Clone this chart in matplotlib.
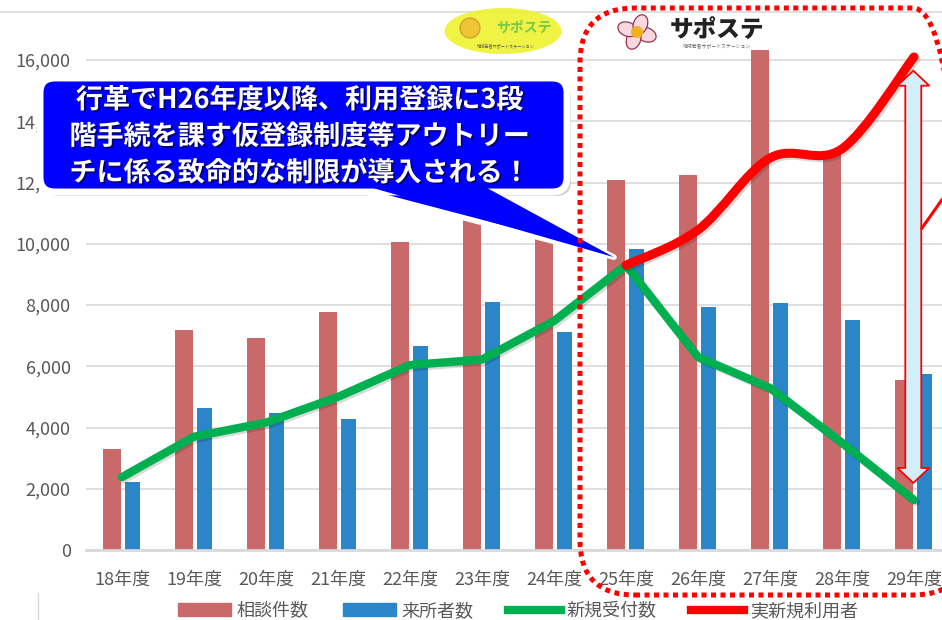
import matplotlib
matplotlib.use("Agg")
import matplotlib.pyplot as plt
import matplotlib.patheffects as pe
from matplotlib.patches import FancyBboxPatch, Polygon, Ellipse, Circle, Patch, PathPatch
from matplotlib.lines import Line2D
from matplotlib.path import Path
from matplotlib.ticker import FuncFormatter
import numpy as np

plt.rcParams['font.family'] = ['Noto Sans CJK JP', 'DejaVu Sans']

# データ
years = ["18年度", "19年度", "20年度", "21年度", "22年度", "23年度",
         "24年度", "25年度", "26年度", "27年度", "28年度", "29年度"]
soudan = [3300, 7180, 6920, 7770, 10060, 11000, 10300, 12080, 12250, 16330, 12900, 5550]
raisho = [2220, 4640, 4470, 4280, 6660, 8100, 7120, 9830, 7940, 8060, 7510, 5750]
shinki = [2380, 3700, 4160, 5000, 6040, 6220, 7480, 9300, 6300, 5290, 3500, 1630]
jitsu_years = years[7:]
jitsu = [9300, 10450, 12800, 13100, 16100]

callout = ["行革でH26年度以降、利用登録に3段",
           "階手続を課す仮登録制度等アウトリー",
           "チに係る致命的な制限が導入される！"]

gray = '#595959'
W, H = 942, 620

fig = plt.figure(figsize=(W / 100, H / 100), dpi=100)
# 左端 86px, 下 550px, 上 12px
ax = fig.add_axes([86 / W, 70 / H, 1 - 86 / W, (550 - 12) / H])

x = np.arange(len(years))
ax.bar(x - 0.135, soudan, width=0.25, color='#C9696A', zorder=2)
ax.bar(x + 0.145, raisho, width=0.22, color='#2B86C9', zorder=2)

shadow = [pe.SimpleLineShadow(offset=(1.5, -1.5), alpha=0.15), pe.Normal()]
ax.plot(x, shinki, color='#00B050', lw=6, solid_capstyle='round',
        solid_joinstyle='round', zorder=4, path_effects=shadow)


# 実新規利用者: Excel風の平滑線 (ベジェ)
def smooth_path(xs, ys):
    pts = np.column_stack([xs, ys]).astype(float)
    verts = [pts[0]]
    codes = [Path.MOVETO]
    n = len(pts)
    for i in range(n - 1):
        p0 = pts[max(i - 1, 0)]
        p1 = pts[i]
        p2 = pts[i + 1]
        p3 = pts[min(i + 2, n - 1)]
        verts += [p1 + (p2 - p0) / 6, p2 - (p3 - p1) / 6, p2]
        codes += [Path.CURVE4] * 3
    return Path(verts, codes)


xj = np.arange(7, 7 + len(jitsu))
red_path = smooth_path(xj, jitsu)
ax.add_patch(PathPatch(red_path, fc='none', ec='#FF0000', lw=6.5, capstyle='round',
                       joinstyle='round', zorder=5, path_effects=shadow))

ax.set_xlim(-0.5, -0.5 + (W - 86) / 72)
ax.set_ylim(0, (550 - 12) / 0.030625)
ax.set_yticks(np.arange(0, 16001, 2000))
ax.yaxis.set_major_formatter(FuncFormatter(lambda v, p: f"{int(v):,}"))
ax.set_xticks(x)
ax.set_xticklabels(years)
ax.tick_params(axis='both', length=0, labelsize=13, colors=gray)
ax.tick_params(axis='y', pad=11)
ax.tick_params(axis='x', pad=15)
ax.grid(axis='y', color='#d9d9d9', lw=1.2, zorder=0)
ax.set_axisbelow(True)
for s in ['top', 'right', 'left']:
    ax.spines[s].set_visible(False)
ax.spines['bottom'].set_color('#d9d9d9')
ax.spines['bottom'].set_linewidth(2)

# 両矢印 (29年度)
xa = 11 - 0.01
top = jitsu[-1] - 450
bot = shinki[-1] + 560
hs, hh, hl = 0.111, 0.222, 490
arrow = [(xa, top), (xa + hh, top - hl), (xa + hs, top - hl), (xa + hs, bot + hl),
         (xa + hh, bot + hl), (xa, bot), (xa - hh, bot + hl), (xa - hs, bot + hl),
         (xa - hs, top - hl), (xa - hh, top - hl)]
ax.add_patch(Polygon(arrow, closed=True, fc='#d2eff9', ec='#FF0000', lw=1.3, zorder=7))

fig.legend(handles=[Patch(color='#C9696A'), Patch(color='#2B86C9'),
                    Line2D([], [], color='#00B050', lw=6),
                    Line2D([], [], color='#FF0000', lw=6)],
           labels=["相談件数", "来所者数", "新規受付数", "実新規利用者"],
           loc='center', bbox_to_anchor=(518 / W, 1 - 611 / H), ncol=4,
           frameon=False, fontsize=13, handlelength=2.95, handletextpad=0.3,
           columnspacing=1.9, labelcolor=gray)

# 以下はピクセル位置指定の装飾
def inch(px, py):
    return px / 100, (H - py) / 100


tr = fig.dpi_scale_trans

# 上端の枠線
fig.add_artist(Line2D([0, 1], [1 - 12 / H] * 2, transform=fig.transFigure,
                      color='#d9d9d9', lw=1.2))
fig.add_artist(Line2D([38 / W] * 2, [0, 1 - 593 / H], transform=fig.transFigure,
                      color='#d9d9d9', lw=1))

# 吹き出し
fig.canvas.draw()
tipx, tipy = ax.transData.transform((7, shinki[7]))
tip = ((tipx - 12) / 100, (tipy + 8) / 100)
b0, b1 = inch(350, 188), inch(478, 188)
bx, by = inch(40, 192)
sh = FancyBboxPatch((bx + 0.04, by - 0.04), 5.27, 1.14,
                    boxstyle='round,pad=0,rounding_size=0.15', transform=tr,
                    fc='#000000', ec='none', alpha=0.18, zorder=10)
fig.add_artist(sh)
fig.add_artist(Polygon([b0, b1, tip], closed=True, transform=tr, fc='#0000FF',
                       ec='white', lw=4, joinstyle='round', zorder=11))
fig.add_artist(FancyBboxPatch((bx, by), 5.27, 1.14,
                              boxstyle='round,pad=0,rounding_size=0.15', transform=tr,
                              fc='#0000FF', ec='white', lw=5, zorder=12))
fig.add_artist(Polygon([inch(352, 182), inch(476, 182), tip], closed=True, transform=tr,
                       fc='#0000FF', ec='none', zorder=13))
txt_shadow = [pe.SimplePatchShadow(offset=(1.2, -1.2), shadow_rgbFace='black', alpha=0.6),
              pe.Normal()]
for i, line in enumerate(callout):
    cx, cy = inch(300, 100 + i * 36.5)
    fig.text(cx, cy, line, transform=tr, ha='center', va='center', fontsize=19.5,
             weight='bold', color='white', zorder=14, path_effects=txt_shadow)

# 点線の角丸枠
fx, fy = inch(580, 595)
fig.add_artist(FancyBboxPatch((fx, fy), 3.88, 5.87,
                              boxstyle='round,pad=0,rounding_size=0.55', transform=tr,
                              fc='none', ec='#FF0000', lw=3.6, linestyle=(0, (1, 0.9)),
                              capstyle='butt', zorder=15))

# 右端の赤線
p0, p1 = inch(922, 228), inch(946, 194)
fig.add_artist(Line2D([p0[0], p1[0]], [p0[1], p1[1]], transform=tr, color='#FF0000',
                      lw=2.2, zorder=8))

# ロゴ1 (黄色)
fig.add_artist(Ellipse(inch(503, 31), 1.17, 0.46, transform=tr, fc='#eef230',
                       ec='none', alpha=0.9, zorder=9))
fig.add_artist(Circle(inch(470, 28), 0.1, transform=tr, fc='#f0b030', ec='#c89020',
                      alpha=0.7, zorder=9))
x1, y1 = inch(524, 28)
fig.text(x1, y1, "サポステ", transform=tr, ha='center', va='center', fontsize=10,
         weight='bold', color='#7cc84a', zorder=9)
x1, y1 = inch(506, 46)
fig.text(x1, y1, "地域若者サポートステーション", transform=tr, ha='center', va='center',
         fontsize=3, color='#555555', zorder=9)

# ロゴ2
for ang in [20, 110, 200, 290]:
    cx = 637 + 10 * np.cos(np.radians(ang))
    cy = 32 + 8 * np.sin(np.radians(ang))
    fig.add_artist(Ellipse(inch(cx, cy), 0.2, 0.14, angle=-ang, transform=tr,
                           fc='#f6d8e0', ec='#a03048', lw=0.9, zorder=9))
fig.add_artist(Circle(inch(637, 32), 0.06, transform=tr, fc='#f0b020', ec='none', zorder=9))
x2, y2 = inch(717, 30)
fig.text(x2, y2, "サポステ", transform=tr, ha='center', va='center', fontsize=17,
         weight='black', color='#222222', zorder=9)
x2, y2 = inch(717, 47)
fig.text(x2, y2, "地域若者サポートステーション", transform=tr, ha='center', va='center',
         fontsize=3.5, color='#666666', zorder=9)

fig.savefig("out.png", dpi=100)
